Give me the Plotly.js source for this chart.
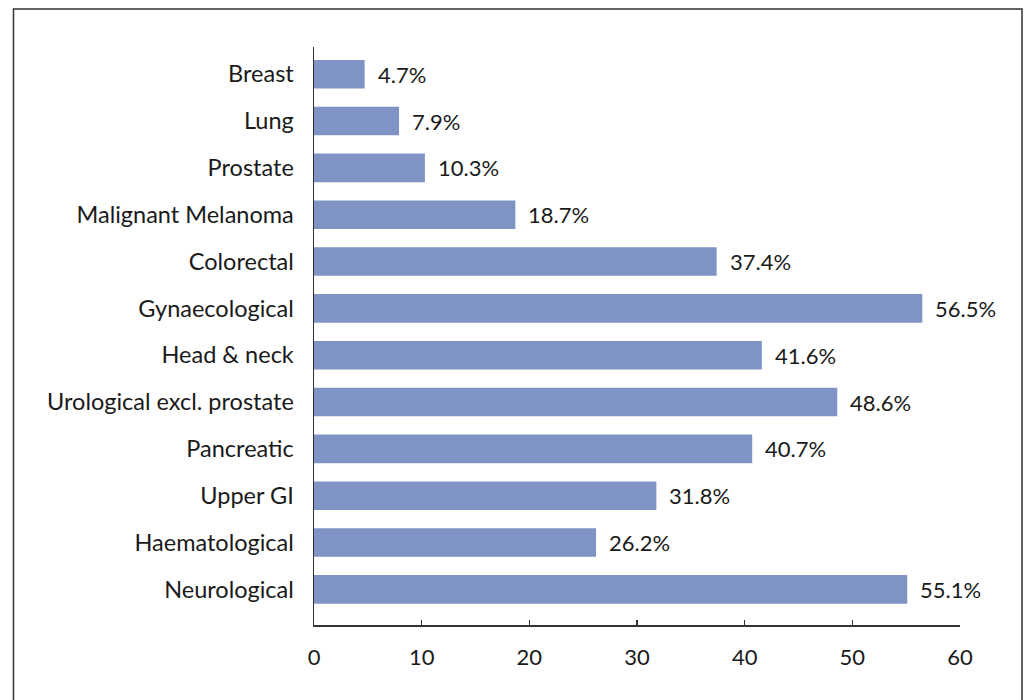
<!DOCTYPE html>
<html>
<head>
<meta charset="utf-8">
<script src="https://cdn.plot.ly/plotly-3.0.1.min.js"></script>
<style>
  html, body { margin: 0; padding: 0; background: #ffffff; }
  #chart { width: 1030px; height: 700px; }
</style>
</head>
<body>
<div id="chart"></div>
<script>
// Cancer sites and the share (%) for each
const sites = [
  "Breast", "Lung", "Prostate", "Malignant Melanoma", "Colorectal",
  "Gynaecological", "Head & neck", "Urological excl. prostate",
  "Pancreatic", "Upper GI", "Haematological", "Neurological"
];
const percent = [4.7, 7.9, 10.3, 18.7, 37.4, 56.5, 41.6, 48.6, 40.7, 31.8, 26.2, 55.1];
const xTicks = [0, 10, 20, 30, 40, 50, 60];

const FONT = "Lato, 'Open Sans', sans-serif";
const INK = "#1a1a1a";

const bars = {
  type: "bar",
  orientation: "h",
  y: sites,
  x: percent,
  marker: { color: "#7f93c5", line: { width: 0 } },
  hoverinfo: "none"
};

// value labels placed just past each bar end
const valueLabels = sites.map((s, i) => ({
  x: percent[i],
  y: s,
  xref: "x",
  yref: "y",
  text: percent[i].toFixed(1) + "%",
  showarrow: false,
  xanchor: "left",
  xshift: 11,
  font: { family: FONT, size: 22, color: INK }
}));

const layout = {
  width: 1030,
  height: 700,
  margin: { l: 314, r: 70, t: 47, b: 75 },
  paper_bgcolor: "#ffffff",
  plot_bgcolor: "#ffffff",
  showlegend: false,
  bargap: 0.39,
  font: { family: FONT, size: 22, color: INK },
  xaxis: {
    range: [0, 60],
    tickvals: xTicks,
    ticktext: xTicks.map(String),
    showgrid: false,
    zeroline: false,
    showline: true,
    linecolor: "#333333",
    linewidth: 1.5,
    ticks: "inside",
    ticklen: 5,
    tickwidth: 1.5,
    tickcolor: "#333333",
    ticklabelstandoff: 12,
    tickfont: { family: FONT, size: 22, color: INK },
    fixedrange: true
  },
  yaxis: {
    type: "category",
    categoryorder: "array",
    categoryarray: sites,
    range: [11.76, -0.58],
    showgrid: false,
    zeroline: false,
    showline: true,
    linecolor: "#333333",
    linewidth: 1.5,
    ticks: "",
    ticklabelstandoff: 14,
    tickfont: { family: FONT, size: 23.5, color: INK },
    fixedrange: true
  },
  annotations: valueLabels,
  shapes: [{
    type: "rect",
    xref: "paper",
    yref: "paper",
    x0: -0.4652,
    x1: 1.0960,
    y0: -0.16,
    y1: 1.0657,
    line: { color: "#333333", width: 1.5 },
    fillcolor: "rgba(0,0,0,0)",
    layer: "above"
  }]
};

Plotly.newPlot("chart", [bars], layout, { displayModeBar: false, staticPlot: true });
</script>
</body>
</html>
